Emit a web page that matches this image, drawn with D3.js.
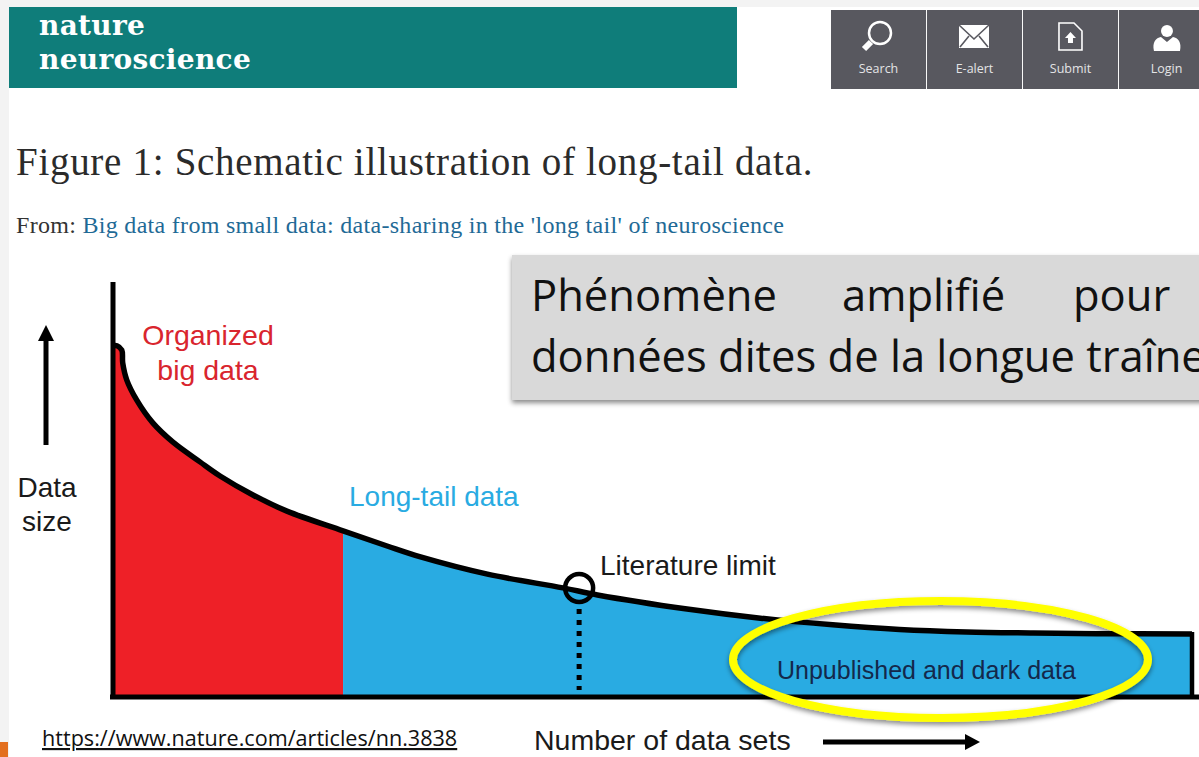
<!DOCTYPE html>
<html>
<head>
<meta charset="utf-8">
<script src="https://cdn.jsdelivr.net/npm/d3@7"></script>
<style>
  html, body { margin: 0; padding: 0; background: #fff; overflow: hidden; }
  svg { display: block; }
  .sans { font-family: "Liberation Sans", sans-serif; }
  .serif { font-family: "Liberation Serif", serif; }
</style>
</head>
<body>
<div id="my_dataviz"></div>
<script>
// values (rank of data set in %, data size in %)
const dataRank = [0, 0.37, 0.81, 0.9, 1.27, 2.19, 3.71, 5.56, 8.06, 9.92, 12.97, 16.12, 21.32, 25.4, 28.5, 34.7, 41.7, 44.9, 53.2, 60, 66.7, 72.9, 79.1, 85.3, 91.2, 100];
const dataSize = [99.8, 99.8, 98.6, 94.9, 90.1, 84.4, 77.8, 72.4, 66.8, 62.8, 57.4, 52.8, 47.2, 42.9, 39.8, 34.9, 31, 29, 25, 22.4, 20.5, 19.2, 18.5, 18.2, 18, 17.9];
const bigDataEnd = 21.32;
const literatureLimit = 43.2;
const navLabels = ["Search", "E-alert", "Submit", "Login"];
const calloutWords = ["Phénomène", "amplifié", "pour"];

const curve = dataRank.map((r, i) => ({ rank: r, size: dataSize[i] }));

const svg = d3.select("#my_dataviz")
  .append("svg")
  .attr("width", 1199)
  .attr("height", 757);

const x = d3.scaleLinear().domain([0, 100]).range([113, 1192]);
const y = d3.scaleLinear().domain([0, 100]).range([697, 345]);

const defs = svg.append("defs");
const shadow = defs.append("filter").attr("id", "shadow")
  .attr("x", "-5%").attr("y", "-10%").attr("width", "110%").attr("height", "125%");
shadow.append("feDropShadow").attr("dx", 0).attr("dy", 3).attr("stdDeviation", 2.5)
  .attr("flood-color", "#000").attr("flood-opacity", 0.45);

// page chrome
svg.append("rect").attr("width", 1199).attr("height", 757).attr("fill", "#fff");
svg.append("rect").attr("width", 9).attr("height", 757).attr("fill", "#f3f3f3");
svg.append("rect").attr("width", 1199).attr("height", 7).attr("fill", "#f3f3f3");
svg.append("rect").attr("y", 742).attr("width", 8).attr("height", 15).attr("fill", "#e36f1e");

// journal banner
svg.append("rect").attr("x", 9).attr("y", 7).attr("width", 728).attr("height", 81).attr("fill", "#0f7d7a");
svg.append("text").attr("x", 39).attr("y", 35)
  .attr("font-family", "'DejaVu Serif', serif").attr("fill", "#fff").attr("font-size", 28)
  .attr("font-weight", "bold").attr("letter-spacing", 0.3).text("nature");
svg.append("text").attr("x", 39).attr("y", 69)
  .attr("font-family", "'DejaVu Serif', serif").attr("fill", "#fff").attr("font-size", 28)
  .attr("font-weight", "bold").attr("letter-spacing", 0.3).text("neuroscience");

// nav buttons
const navX = d3.scaleBand().domain(navLabels).range([831, 1214]).paddingInner(0.01);
const nav = svg.selectAll("g.nav").data(navLabels).join("g")
  .attr("class", "nav")
  .attr("transform", d => `translate(${navX(d)},10)`);
nav.append("rect").attr("width", navX.bandwidth()).attr("height", 79).attr("fill", "#58585f");
nav.append("text").attr("x", navX.bandwidth() / 2).attr("y", 63)
  .attr("text-anchor", "middle").attr("fill", "#e4e4e6")
  .attr("font-family", "'Open Sans', sans-serif").attr("font-size", 12.5).text(d => d);

// search icon
const search = nav.filter(d => d === "Search");
search.append("circle").attr("cx", 49).attr("cy", 23).attr("r", 11)
  .attr("fill", "none").attr("stroke", "#fff").attr("stroke-width", 2.5);
search.append("line").attr("x1", 40).attr("y1", 32).attr("x2", 33).attr("y2", 39)
  .attr("stroke", "#fff").attr("stroke-width", 6);
// envelope icon
const mail = nav.filter(d => d === "E-alert");
mail.append("rect").attr("x", 32).attr("y", 15).attr("width", 30).attr("height", 23).attr("fill", "#fff");
mail.append("path").attr("d", "M32,15L47,29L62,15M33,37L42,26M61,37L52,26")
  .attr("fill", "none").attr("stroke", "#58585f").attr("stroke-width", 1.6);
// submit icon
const submit = nav.filter(d => d === "Submit");
submit.append("path").attr("d", "M36,13H51L59,21V40H36Z").attr("fill", "none").attr("stroke", "#fff").attr("stroke-width", 1.6);
submit.append("path").attr("d", "M47.5,22L53,28H50V33H45V28H42Z").attr("fill", "#fff");
// login icon
const login = nav.filter(d => d === "Login");
login.append("circle").attr("cx", 48).attr("cy", 21).attr("r", 6).attr("fill", "#fff");
login.append("path").attr("d", "M35,41C33,32 37,28 42,27L48,32L54,27C59,28 63,32 61,41Z").attr("fill", "#fff");

// headings
svg.append("text").attr("class", "serif").attr("x", 16).attr("y", 175)
  .attr("fill", "#2b2b2b").attr("font-size", 39).attr("letter-spacing", 0.7)
  .text("Figure 1: Schematic illustration of long-tail data.");
const from = svg.append("text").attr("class", "serif").attr("x", 16).attr("y", 233)
  .attr("font-size", 24).attr("letter-spacing", 0.3);
from.append("tspan").attr("fill", "#333").text("From: ");
from.append("tspan").attr("fill", "#1f6a96").text("Big data from small data: data-sharing in the 'long tail' of neuroscience");

// filled areas under the curve
const smooth = d3.curveCatmullRom.alpha(0.5);
const area = d3.area()
  .x(d => x(d.rank))
  .y0(y(0))
  .y1(d => y(d.size))
  .curve(smooth);

svg.append("path").datum(curve.filter(d => d.rank <= bigDataEnd))
  .attr("d", area).attr("fill", "#ee2027");
svg.append("path").datum(curve.filter(d => d.rank >= bigDataEnd))
  .attr("d", area).attr("fill", "#29abe2");

// the long tail line
svg.append("path").datum(curve)
  .attr("d", d3.line().x(d => x(d.rank)).y(d => y(d.size)).curve(smooth))
  .attr("fill", "none").attr("stroke", "#000").attr("stroke-width", 5.5);

// frame
svg.append("line").attr("x1", x(0)).attr("x2", x(0)).attr("y1", 282).attr("y2", y(0) + 2)
  .attr("stroke", "#000").attr("stroke-width", 5);
svg.append("line").attr("x1", 110).attr("x2", 1199).attr("y1", y(0)).attr("y2", y(0))
  .attr("stroke", "#000").attr("stroke-width", 5);
svg.append("line").attr("x1", x(100)).attr("x2", x(100)).attr("y1", y(17.9) - 2).attr("y2", y(0))
  .attr("stroke", "#000").attr("stroke-width", 4.5);

// literature limit marker
svg.append("line").attr("x1", x(literatureLimit)).attr("x2", x(literatureLimit))
  .attr("y1", 609).attr("y2", 690)
  .attr("stroke", "#000").attr("stroke-width", 5).attr("stroke-dasharray", "5,6");
svg.append("circle").attr("cx", x(literatureLimit)).attr("cy", 588).attr("r", 14)
  .attr("fill", "none").attr("stroke", "#000").attr("stroke-width", 4.5);

// arrows
svg.append("line").attr("x1", 46).attr("x2", 46).attr("y1", 445).attr("y2", 335)
  .attr("stroke", "#000").attr("stroke-width", 5);
svg.append("path").attr("d", "M46,325L54,341H38Z").attr("fill", "#000");
svg.append("line").attr("x1", 823).attr("x2", 968).attr("y1", 742).attr("y2", 742)
  .attr("stroke", "#000").attr("stroke-width", 5);
svg.append("path").attr("d", "M980,742L965,734V750Z").attr("fill", "#000");

// labels
function label(txt, px, py, size, fill, anchor) {
  svg.append("text").attr("class", "sans").attr("x", px).attr("y", py)
    .attr("font-size", size).attr("fill", fill).attr("text-anchor", anchor || "start").text(txt);
}
label("Organized", 208, 345, 28.5, "#d9252e", "middle");
label("big data", 208, 380, 28.5, "#d9252e", "middle");
label("Data", 47, 497, 28, "#1a1a1a", "middle");
label("size", 47, 531, 28, "#1a1a1a", "middle");
label("Long-tail data", 349, 506, 28, "#29abe2");
label("Literature limit", 600, 575, 28, "#1a1a1a");
label("Unpublished and dark data", 777, 679, 25, "#14284b");
label("Number of data sets", 534, 750, 28.5, "#1a1a1a");

// source link
svg.append("text").attr("x", 42).attr("y", 746)
  .attr("font-family", "'Open Sans', sans-serif").attr("font-size", 21.6)
  .attr("fill", "#111").attr("text-decoration", "underline").text("https://www.nature.com/articles/nn.3838");

// yellow ellipse
svg.append("ellipse").attr("cx", 940.5).attr("cy", 659.5).attr("rx", 207.5).attr("ry", 58.5)
  .attr("fill", "none").attr("stroke", "#ffff00").attr("stroke-width", 8).attr("filter", "url(#shadow)");

// grey callout
svg.append("rect").attr("x", 512).attr("y", 255).attr("width", 700).attr("height", 145)
  .attr("fill", "#d9d9d9").attr("filter", "url(#shadow)");
const wordX = d3.scaleOrdinal().domain(calloutWords).range([531, 842, 1073]);
svg.selectAll("text.word").data(calloutWords).join("text")
  .attr("class", "word").attr("x", d => wordX(d)).attr("y", 311)
  .attr("font-family", "'Open Sans', sans-serif").attr("font-size", 43.5).attr("fill", "#111").text(d => d);
svg.append("text").attr("x", 531).attr("y", 372)
  .attr("font-family", "'Open Sans', sans-serif").attr("font-size", 43.5).attr("fill", "#111")
  .text("données dites de la longue traîne");
</script>
</body>
</html>
